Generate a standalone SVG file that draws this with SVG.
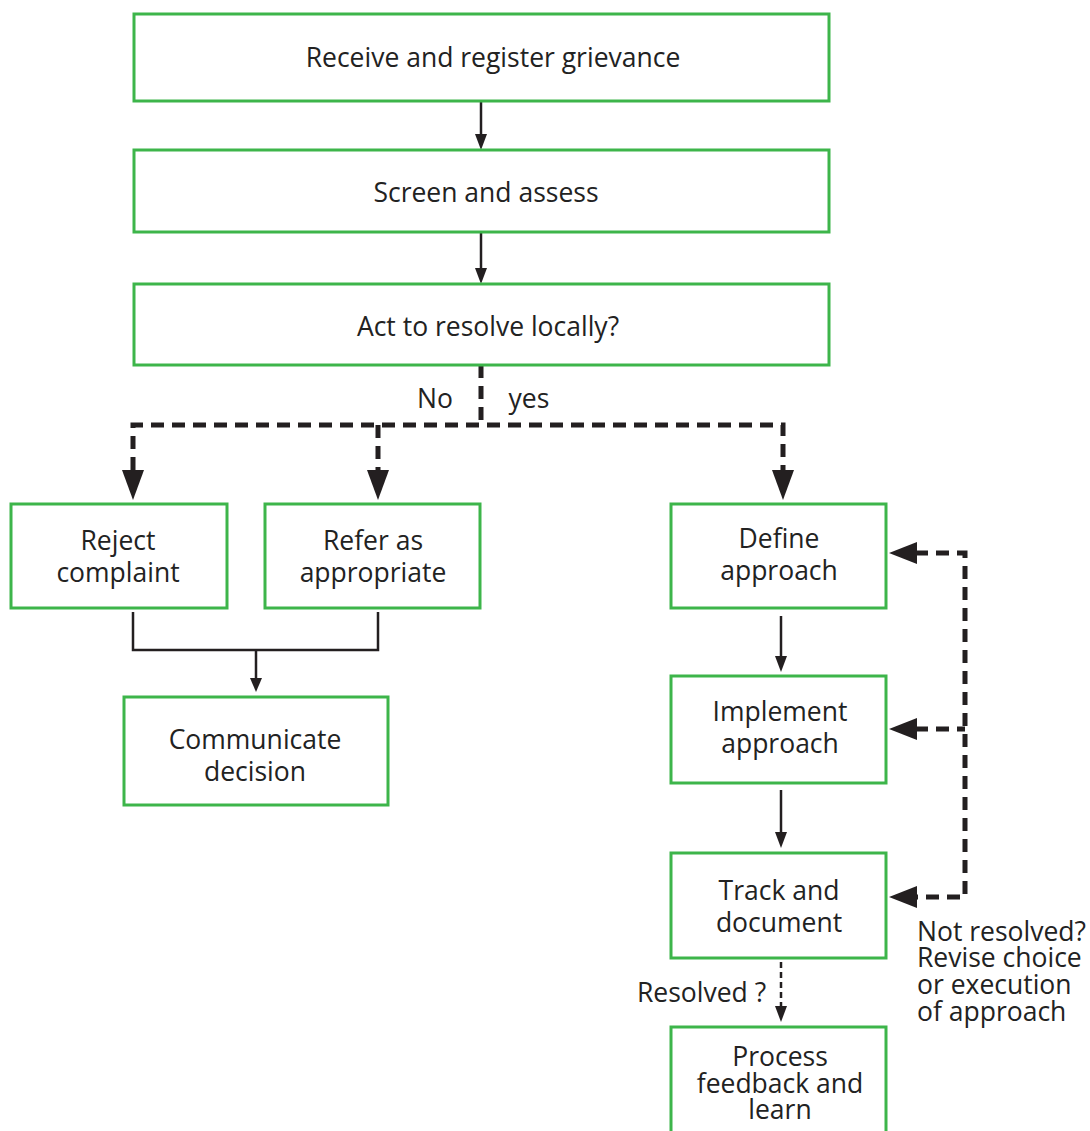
<svg xmlns="http://www.w3.org/2000/svg" width="1090" height="1131" viewBox="0 0 1090 1131">
<style>
.box{fill:#fff;stroke:#3db54a;stroke-width:3}
.t{font-family:"Open Sans","Noto Sans","Liberation Sans",sans-serif;font-size:26.5px;fill:#222;text-anchor:middle}
.l{font-family:"Open Sans","Noto Sans","Liberation Sans",sans-serif;font-size:26.5px;fill:#222}
.solid{fill:none;stroke:#231f20;stroke-width:2.5}
.dash{fill:none;stroke:#231f20;stroke-width:5;stroke-dasharray:13 8}
.dashthin{fill:none;stroke:#231f20;stroke-width:2.5;stroke-dasharray:6 4}
.head{fill:#231f20}
</style>
<rect width="1090" height="1131" fill="#fff"/>
<g id="connectors">
<line class="solid" x1="481" y1="101" x2="481" y2="136"/>
<polygon class="head" points="475,134 487,134 481,150"/>
<line class="solid" x1="481" y1="232" x2="481" y2="270"/>
<polygon class="head" points="475,268 487,268 481,284"/>
<path class="dash" d="M481,365 V425"/>
<path class="dash" d="M133,470 V425 H783 V470"/>
<path class="dash" d="M378,425 V470"/>
<polygon class="head" points="122,470 144,470 133,500"/>
<polygon class="head" points="367,470 389,470 378,500"/>
<polygon class="head" points="772,470 794,470 783,500"/>
<path class="solid" d="M133,612 V650 H378 V612"/>
<line class="solid" x1="256" y1="650" x2="256" y2="680"/>
<polygon class="head" points="250,678 262,678 256,692"/>
<line class="solid" x1="781" y1="616" x2="781" y2="658"/>
<polygon class="head" points="775,656 787,656 781,672"/>
<line class="solid" x1="781" y1="790" x2="781" y2="834"/>
<polygon class="head" points="775,832 787,832 781,848"/>
<path class="dash" d="M915,553 H965 V897 H915"/>
<path class="dash" d="M915,729 H965"/>
<polygon class="head" points="917,542 917,564 889,553"/>
<polygon class="head" points="917,718 917,740 889,729"/>
<polygon class="head" points="917,886 917,908 889,897"/>
<line class="dashthin" x1="781" y1="962" x2="781" y2="1008"/>
<polygon class="head" points="775,1006 787,1006 781,1022"/>
</g>
<g id="n1"><rect class="box" x="134" y="14" width="695" height="87"/><text class="t" x="493" y="67">Receive and register grievance</text></g>
<g id="n2"><rect class="box" x="134" y="150" width="695" height="82"/><text class="t" x="486" y="202">Screen and assess</text></g>
<g id="n3"><rect class="box" x="134" y="284" width="695" height="81"/><text class="t" x="488" y="336">Act to resolve locally?</text></g>
<text class="t" x="435" y="408">No</text>
<text class="t" x="529" y="408">yes</text>
<g id="n4"><rect class="box" x="11" y="504" width="216" height="104"/><text class="t" x="118" y="550">Reject</text><text class="t" x="118" y="582">complaint</text></g>
<g id="n5"><rect class="box" x="265" y="504" width="215" height="104"/><text class="t" x="373" y="550">Refer as</text><text class="t" x="373" y="582">appropriate</text></g>
<g id="n6"><rect class="box" x="124" y="697" width="264" height="108"/><text class="t" x="255" y="749">Communicate</text><text class="t" x="255" y="781">decision</text></g>
<g id="n7"><rect class="box" x="671" y="504" width="215" height="104"/><text class="t" x="779" y="548">Define</text><text class="t" x="779" y="580">approach</text></g>
<g id="n8"><rect class="box" x="671" y="676" width="215" height="107"/><text class="t" x="780" y="721">Implement</text><text class="t" x="780" y="753">approach</text></g>
<g id="n9"><rect class="box" x="671" y="853" width="215" height="105"/><text class="t" x="779" y="900">Track and</text><text class="t" x="779" y="932">document</text></g>
<g id="n10"><rect class="box" x="671" y="1027" width="215" height="110"/><text class="t" x="780" y="1066">Process</text><text class="t" x="780" y="1093">feedback and</text><text class="t" x="780" y="1119">learn</text></g>
<text class="l" x="637" y="1002">Resolved ?</text>
<text class="l" x="917" y="941">Not resolved?</text>
<text class="l" x="917" y="967">Revise choice</text>
<text class="l" x="917" y="994">or execution</text>
<text class="l" x="917" y="1021">of approach</text>
</svg>
